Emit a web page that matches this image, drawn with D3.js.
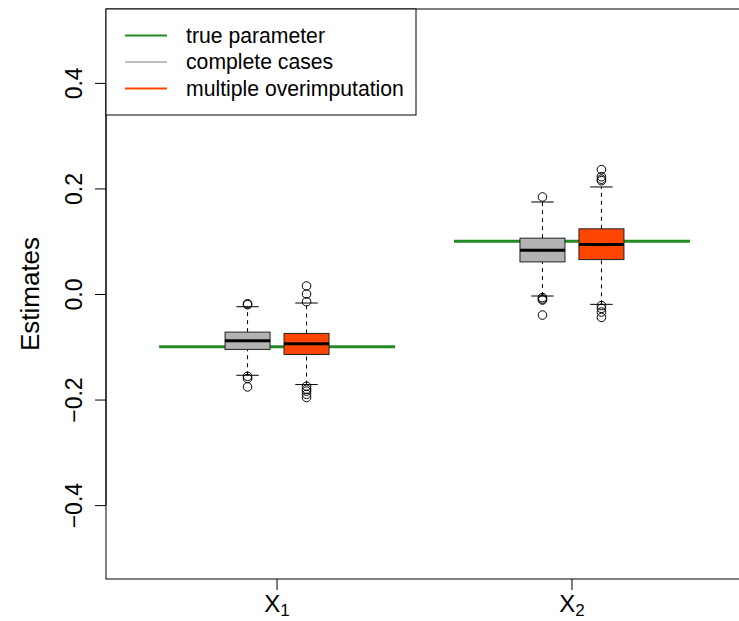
<!DOCTYPE html>
<html>
<head>
<meta charset="utf-8">
<script src="https://cdn.jsdelivr.net/npm/d3@7"></script>
<style>
  html, body { margin: 0; padding: 0; background: #fff; }
  svg { display: block; font-family: "Liberation Sans", Arial, Helvetica, sans-serif; }
</style>
</head>
<body>
<svg id="chart" width="739" height="621"></svg>
<script>
// Coefficient estimates across simulation runs
const categories = ["X", "X"];
const subscripts = ["1", "2"];
const trueParameter = [-0.1, 0.1];

// five-number summaries: [lower whisker, Q1, median, Q3, upper whisker]
const completeCasesStats = [
  [-0.154, -0.105, -0.0887, -0.0722, -0.0241],
  [-0.0038, 0.0608, 0.0830, 0.1058, 0.1743]
];
const overimputationStats = [
  [-0.1716, -0.1146, -0.0944, -0.0747, -0.0171],
  [-0.0196, 0.0652, 0.0937, 0.1235, 0.2028]
];
const completeCasesOutliers = [
  [-0.0203, -0.0185, -0.156, -0.160, -0.176],
  [0.1838, -0.0067, -0.0095, -0.0114, -0.0399]
];
const overimputationOutliers = [
  [0.0152, 0.0, -0.0146, -0.1748, -0.1805, -0.184, -0.190, -0.196],
  [0.2356, 0.2223, 0.2176, 0.2147, -0.0219, -0.0272, -0.0342, -0.0443]
];

const yTicks = [-0.4, -0.2, 0, 0.2, 0.4];
const yTickLabels = ["\u22120.4", "\u22120.2", "0.0", "0.2", "0.4"];

const seriesNames = ["true parameter", "complete cases", "multiple overimputation"];
const seriesColors = ["#228b22", "#bebebe", "#ff4500"];
const boxFills = ["#b3b3b3", "#ff4500"];

const svg = d3.select("#chart");
const plotLeft = 106, plotRight = 743, plotTop = 9, plotBottom = 579;

const y = d3.scaleLinear().domain([-0.54, 0.54]).range([plotBottom, plotTop]);
const x = d3.scaleLinear().domain([0.42, 2.58]).range([plotLeft, plotRight]);
const positions = categories.map((d, i) => i + 1);

// y axis with labels running along the axis
const yAxis = svg.append("g")
  .attr("transform", `translate(${plotLeft},0)`)
  .call(d3.axisLeft(y).tickValues(yTicks).tickSize(11).tickPadding(0)
    .tickFormat((d, i) => yTickLabels[i]));
yAxis.select(".domain").remove();
yAxis.selectAll(".tick line").attr("stroke", "#000");
yAxis.selectAll(".tick text")
  .attr("x", 0).attr("y", 0).attr("dy", null)
  .attr("transform", "translate(-24,0) rotate(-90)")
  .attr("text-anchor", "middle")
  .attr("font-size", 23)
  .attr("fill", "#000");

svg.append("line")
  .attr("x1", plotLeft).attr("x2", plotLeft)
  .attr("y1", y(yTicks[0])).attr("y2", y(yTicks[yTicks.length - 1]))
  .attr("stroke", "#000");

svg.append("text")
  .attr("transform", `translate(39,${(plotTop + plotBottom) / 2}) rotate(-90)`)
  .attr("text-anchor", "middle")
  .attr("font-size", 26)
  .text("Estimates");

// x axis ticks and subscripted labels
const xAxis = svg.append("g");
positions.forEach((p, i) => {
  xAxis.append("line")
    .attr("x1", x(p)).attr("x2", x(p))
    .attr("y1", plotBottom).attr("y2", plotBottom + 11)
    .attr("stroke", "#000");
  const t = xAxis.append("text")
    .attr("x", x(p)).attr("y", 612)
    .attr("text-anchor", "middle")
    .attr("font-size", 24);
  t.append("tspan").text(categories[i]);
  t.append("tspan").attr("font-size", 17).attr("dy", 4).text(subscripts[i]);
});

// true parameter reference lines
svg.append("g").selectAll("line")
  .data(trueParameter)
  .join("line")
  .attr("x1", (d, i) => x(positions[i] - 0.4))
  .attr("x2", (d, i) => x(positions[i] + 0.4))
  .attr("y1", d => y(d)).attr("y2", d => y(d))
  .attr("stroke", seriesColors[0])
  .attr("stroke-width", 3);

// boxplots
const offsets = [-0.1, 0.1];
const halfWidth = x(0.0763) - x(0);
const statSets = [completeCasesStats, overimputationStats];
const outlierSets = [completeCasesOutliers, overimputationOutliers];

statSets.forEach((stats, s) => {
  const g = svg.append("g");
  stats.forEach((st, i) => {
    const cx = x(positions[i] + offsets[s]);
    const [lw, q1, med, q3, uw] = st;
    // whiskers
    [[lw, q1], [q3, uw]].forEach(([a, b]) => {
      g.append("line")
        .attr("x1", cx).attr("x2", cx)
        .attr("y1", y(a)).attr("y2", y(b))
        .attr("stroke", "#000").attr("stroke-dasharray", "4,4");
    });
    [lw, uw].forEach(v => {
      g.append("line")
        .attr("x1", cx - halfWidth / 2).attr("x2", cx + halfWidth / 2)
        .attr("y1", y(v)).attr("y2", y(v))
        .attr("stroke", "#000");
    });
    g.append("rect")
      .attr("x", cx - halfWidth).attr("width", 2 * halfWidth)
      .attr("y", y(q3)).attr("height", y(q1) - y(q3))
      .attr("fill", boxFills[s]).attr("stroke", "#222");
    g.append("line")
      .attr("x1", cx - halfWidth).attr("x2", cx + halfWidth)
      .attr("y1", y(med)).attr("y2", y(med))
      .attr("stroke", "#000").attr("stroke-width", 3);
    g.selectAll(null)
      .data(outlierSets[s][i])
      .join("circle")
      .attr("cx", cx).attr("cy", d => y(d)).attr("r", 4.3)
      .attr("fill", "none").attr("stroke", "#000");
  });
});

// plot frame
svg.append("rect")
  .attr("x", plotLeft).attr("y", plotTop)
  .attr("width", plotRight - plotLeft).attr("height", plotBottom - plotTop)
  .attr("fill", "none").attr("stroke", "#000");

// legend
const lg = svg.append("g");
lg.append("rect")
  .attr("x", plotLeft).attr("y", plotTop).attr("width", 310).attr("height", 106)
  .attr("fill", "#fff").attr("stroke", "#000");
seriesNames.forEach((name, i) => {
  const ly = 35.5 + i * 26.5;
  lg.append("line")
    .attr("x1", 125).attr("x2", 167)
    .attr("y1", ly).attr("y2", ly)
    .attr("stroke", seriesColors[i]).attr("stroke-width", 2);
  lg.append("text")
    .attr("x", 186).attr("y", ly).attr("dy", "0.35em")
    .attr("font-size", 21.2)
    .text(name);
});
</script>
</body>
</html>
